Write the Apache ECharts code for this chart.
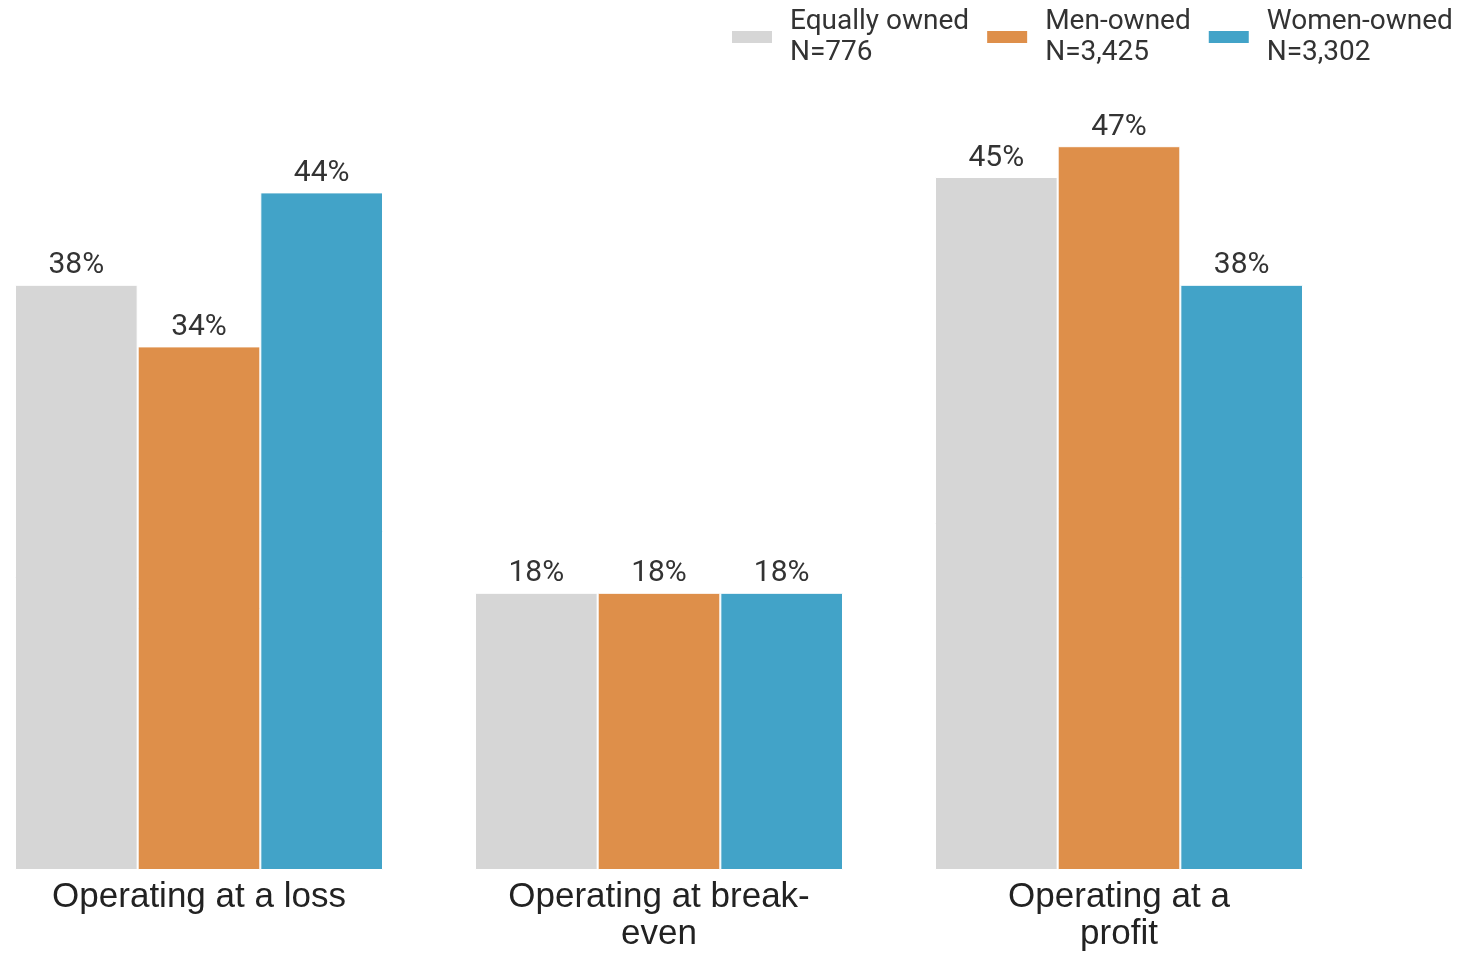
<!DOCTYPE html>
<html>
<head>
<meta charset="utf-8">
<script src="https://cdn.jsdelivr.net/npm/echarts@6/dist/echarts.min.js"></script>
<style>html,body{margin:0;padding:0;background:#fff;overflow:hidden;}#c{position:absolute;left:-31px;top:0;width:1489px;height:953px;}</style>
</head>
<body>
<div id="c"></div>
<script>
const categories = ['Operating at a loss', 'Operating at break-\neven', 'Operating at a\nprofit'];
const seriesNames = ['Equally owned\nN=776', 'Men-owned\nN=3,425', 'Women-owned\nN=3,302'];
const equallyOwned = [38, 18, 45];
const menOwned = [34, 18, 47];
const womenOwned = [44, 18, 38];
const colors = ['#d6d6d6', '#de8f4a', '#42a3c8'];

const chart = echarts.init(document.getElementById('c'));
const mk = (name, data, color) => ({
  name, type: 'bar', data,
  barGap: '0%', barCategoryGap: '20%',
  itemStyle: { color, borderColor: '#ffffff', borderWidth: 1 },
  label: { show: true, position: 'top', distance: 4, formatter: '{c}%', fontFamily: 'Roboto', fontSize: 30, color: '#333333' }
});
chart.setOption({
  animation: false,
  color: colors,
  legend: {
    left: 761, top: 6, width: 740, padding: 0, itemWidth: 42, itemHeight: 14, itemGap: 16,
    textStyle: { fontFamily: 'Roboto', fontSize: 28, color: '#333333', lineHeight: 31, padding: [0, 0, 0, 12] },
    icon: 'rect',
    data: seriesNames
  },
  grid: { left: 0, width: 1380, top: 100, bottom: 83, containLabel: false },
  xAxis: {
    type: 'category', data: categories,
    axisLine: { show: false }, axisTick: { show: false },
    axisLabel: { fontFamily: 'Liberation Sans', fontSize: 35, color: '#222222', lineHeight: 37, margin: 9, interval: 0 }
  },
  yAxis: { type: 'value', min: 0, max: 50, show: false, splitLine: { show: false } },
  series: [
    mk(seriesNames[0], equallyOwned, colors[0]),
    mk(seriesNames[1], menOwned, colors[1]),
    mk(seriesNames[2], womenOwned, colors[2])
  ]
});
</script>
</body>
</html>
